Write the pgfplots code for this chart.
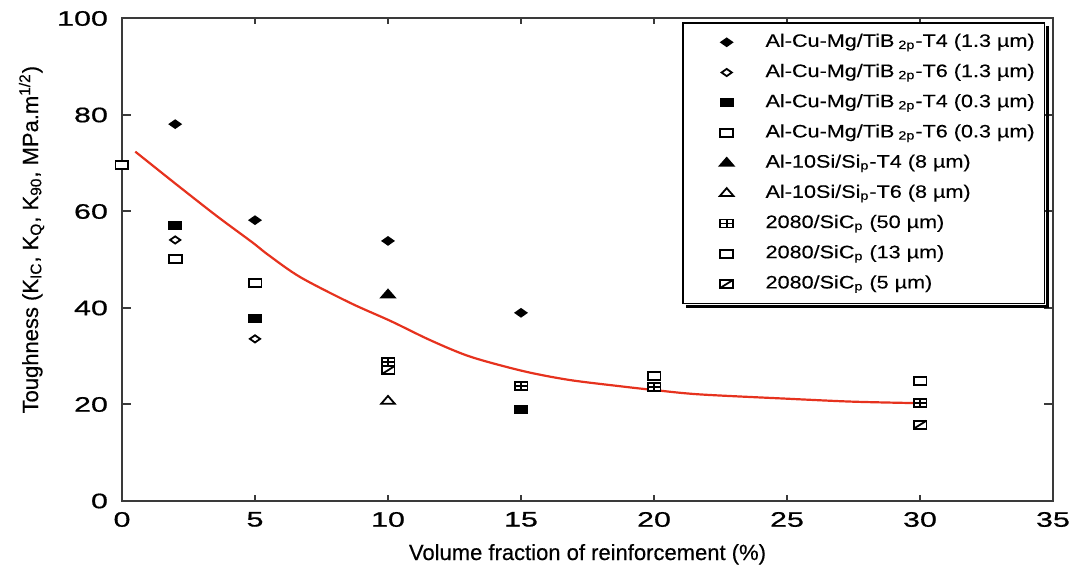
\documentclass[border=0pt]{standalone}
\usepackage{pgfplots}
\pgfplotsset{compat=1.18}
\usepackage{fontspec}
\setmainfont{Liberation Sans}[FakeBold=0.4]
\newfontfamily\tickfont{Liberation Sans}[FakeStretch=1.45, FakeBold=0.8]
\newfontfamily\legfont{Liberation Sans}[FakeStretch=1.2, FakeBold=0.3]
\definecolor{axgray}{HTML}{3A3A3A}
\definecolor{curvered}{HTML}{E6321E}

\pgfdeclareplotmark{sqplus}{%
  \pgfpathrectangle{\pgfpoint{-\pgfplotmarksize}{-\pgfplotmarksize}}{\pgfpoint{2\pgfplotmarksize}{2\pgfplotmarksize}}%
  \pgfusepathqfillstroke
  \pgfpathmoveto{\pgfpoint{-\pgfplotmarksize}{0pt}}\pgfpathlineto{\pgfpoint{\pgfplotmarksize}{0pt}}%
  \pgfpathmoveto{\pgfpoint{0pt}{-\pgfplotmarksize}}\pgfpathlineto{\pgfpoint{0pt}{\pgfplotmarksize}}%
  \pgfusepathqstroke}
\pgfdeclareplotmark{sqslash}{%
  \pgfpathrectangle{\pgfpoint{-\pgfplotmarksize}{-\pgfplotmarksize}}{\pgfpoint{2\pgfplotmarksize}{2\pgfplotmarksize}}%
  \pgfusepathqfillstroke
  \pgfpathmoveto{\pgfpoint{-\pgfplotmarksize}{-\pgfplotmarksize}}\pgfpathlineto{\pgfpoint{\pgfplotmarksize}{\pgfplotmarksize}}%
  \pgfusepathqstroke}

\begin{document}
\begin{tikzpicture}
\begin{axis}[
  at={(61pt,35.5pt)}, anchor=south west,
  width=465.5pt, height=241.25pt, scale only axis,
  xmin=0, xmax=35, ymin=0, ymax=100,
  xtick={0,5,...,35}, ytick={0,20,...,100},
  tick align=inside,
  axis line style={axgray, line width=1pt},
  every tick/.style={axgray, line width=1pt},
  xtick style={/pgfplots/major tick length=3pt},
  ytick style={/pgfplots/major tick length=4.5pt},
  tick label style={font=\tickfont\fontsize{10.5}{12}\selectfont, text=black},
  /pgf/number format/assume math mode=true,
  yticklabel style={xshift=-3.5pt},
  xticklabel style={yshift=-2pt},
  xlabel={Volume fraction of reinforcement (\%)},
  ylabel={Toughness (K\textsubscript{IC}, K\textsubscript{Q}, K\textsubscript{90}, MPa.m\textsuperscript{1/2})},
  label style={font=\fontsize{11}{13}\selectfont},
  xlabel style={at={(axis description cs:0.5,-0.1223)}, anchor=base},
  ylabel style={at={(axis description cs:-0.0902,0.5415)}, anchor=base},
  legend cell align=left,
  legend style={name=leg, at={(0.6015,0.9927)}, anchor=north west, draw=black, line width=0.8pt, fill=white,
    font=\legfont\fontsize{9}{10}\selectfont,
    inner xsep=2pt, inner ysep=4pt, row sep=3.6pt, column sep=7pt,
    nodes={inner xsep=3pt, inner ysep=1pt, text height=7pt, text depth=2.5pt}},
  legend image code/.code={%
    \path (-10.5pt,-3pt) (18pt,3pt);
    \draw[mark repeat=2,mark phase=2,#1] plot coordinates {(0pt,0pt)(9pt,0pt)(18pt,0pt)};},
  every axis plot/.append style={line width=0.9pt},
]
\addplot[curvered, line width=1.1pt, smooth, forget plot] coordinates {
 (0.5,72.4) (1.5,68.0) (2.3,64.5) (3.6,58.9) (4.9,53.6) (5.5,51.0) (6.7,46.4)
 (8.6,41.0) (10.1,37.3) (11.6,33.3) (13.1,29.9) (15.1,26.9) (16.8,25.1)
 (18.7,23.8) (20,23.0) (21.7,22.1) (25,21.2) (27.4,20.6) (29.7,20.3) (30,20.3)};

\addplot[only marks, mark=diamond*, mark size=1.9pt, black, mark options={xscale=1.9, fill=black}] coordinates {
 (2,78.1) (5,58.2) (10,53.9) (15,39.0)};
\addlegendentry{Al-Cu-Mg/TiB\hspace{2pt}\textsubscript{2p}-T4 (1.3 µm)}
\addplot[only marks, mark=diamond*, mark size=1.8pt, black, mark options={xscale=1.9, fill=white}] coordinates {
 (2,54.1) (5,33.6)};
\addlegendentry{Al-Cu-Mg/TiB\hspace{2pt}\textsubscript{2p}-T6 (1.3 µm)}
\addplot[only marks, mark=square*, mark size=1.8pt, black, mark options={xscale=1.7, fill=black}] coordinates {
 (2,57.0) (5,37.9) (15,18.9)};
\addlegendentry{Al-Cu-Mg/TiB\hspace{2pt}\textsubscript{2p}-T4 (0.3 µm)}
\addplot[only marks, mark=square*, mark size=2pt, black, mark options={xscale=1.6, fill=white}] coordinates {
 (0,69.6) (2,50.2) (5,45.2)};
\addlegendentry{Al-Cu-Mg/TiB\hspace{2pt}\textsubscript{2p}-T6 (0.3 µm)}
\addplot[only marks, mark=triangle*, mark size=2.6pt, black, mark options={xscale=1.5, fill=black}] coordinates {
 (10,42.7)};
\addlegendentry{Al-10Si/Si\textsubscript{p}-T4 (8 µm)}
\addplot[only marks, mark=triangle*, mark size=2.6pt, black, mark options={xscale=1.5, fill=white}] coordinates {
 (10,20.7)};
\addlegendentry{Al-10Si/Si\textsubscript{p}-T6 (8 µm)}
\addplot[only marks, mark=sqplus, mark size=2pt, black, mark options={xscale=1.6, fill=white}] coordinates {
 (10,28.8) (15,23.8) (20,23.6) (30,20.3)};
\addlegendentry{2080/SiC\textsubscript{p} (50 µm)}
\addplot[only marks, mark=square*, mark size=2pt, black, mark options={xscale=1.6, fill=white}] coordinates {
 (20,25.9) (30,24.9)};
\addlegendentry{2080/SiC\textsubscript{p} (13 µm)}
\addplot[only marks, mark=sqslash, mark size=2pt, black, mark options={xscale=1.6, fill=white}] coordinates {
 (10,27.1) (30,15.8)};
\addlegendentry{2080/SiC\textsubscript{p} (5 µm)}
\end{axis}
\draw[black, line width=1.6pt]
  ([xshift=2pt,yshift=-1.2pt]leg.south west) -- ([xshift=1.2pt,yshift=-1.2pt]leg.south east)
  -- ([xshift=1.2pt,yshift=-2pt]leg.north east);
\pgfresetboundingbox
\path[use as bounding box] (0,0) rectangle (538pt,286pt);
\end{tikzpicture}
\end{document}
